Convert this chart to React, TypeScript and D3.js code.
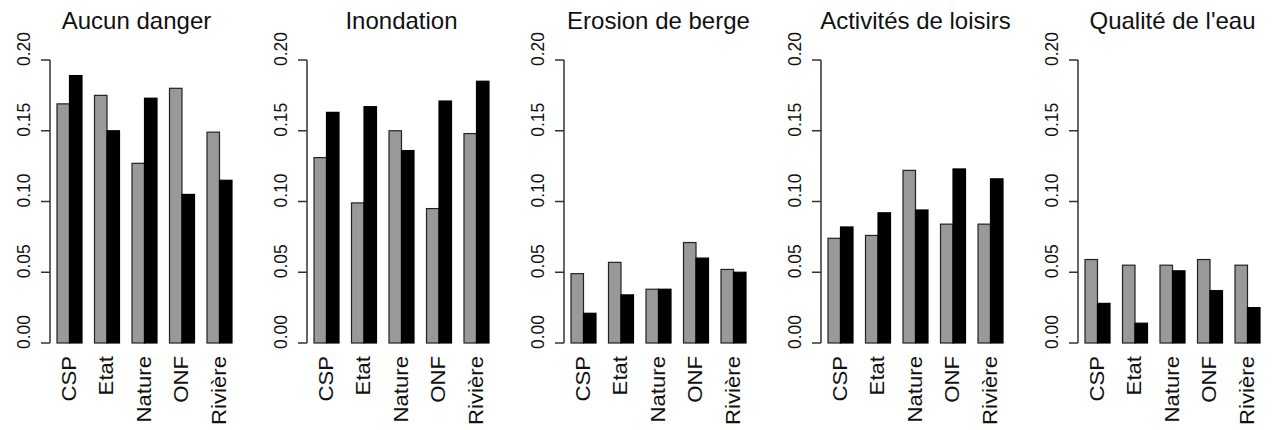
import React from 'react';
import * as d3 from 'd3';

// categories and the five panels
const categories = ['CSP', 'Etat', 'Nature', 'ONF', 'Rivière'];
const panelTitles = ['Aucun danger', 'Inondation', 'Erosion de berge', 'Activités de loisirs', "Qualité de l'eau"];
const yTicks = [0, 0.05, 0.1, 0.15, 0.2];

// grey bars (first series) and black bars (second series), one array per panel
const greyAucun = [0.169, 0.175, 0.127, 0.180, 0.149];
const blackAucun = [0.189, 0.150, 0.173, 0.105, 0.115];
const greyInondation = [0.131, 0.099, 0.150, 0.095, 0.148];
const blackInondation = [0.163, 0.167, 0.136, 0.171, 0.185];
const greyErosion = [0.049, 0.057, 0.038, 0.071, 0.052];
const blackErosion = [0.021, 0.034, 0.038, 0.060, 0.050];
const greyLoisirs = [0.074, 0.076, 0.122, 0.084, 0.084];
const blackLoisirs = [0.082, 0.092, 0.094, 0.123, 0.116];
const greyEau = [0.059, 0.055, 0.055, 0.059, 0.055];
const blackEau = [0.028, 0.014, 0.051, 0.037, 0.025];

const greySeries = [greyAucun, greyInondation, greyErosion, greyLoisirs, greyEau];
const blackSeries = [blackAucun, blackInondation, blackErosion, blackLoisirs, blackEau];

const FONT = '"Liberation Sans", Arial, Helvetica, sans-serif';
const W = 1274;
const H = 430;
const firstAxisX = 50;
const panelStep = 257;
const unit = 12.5;
// the first title sits a little left of its plot in the original
const titleShift = [-8, 0, 0, 0, 0];

const Panel = ({ index }: { index: number }) => {
  const axisX = firstAxisX + index * panelStep;
  // R barplot layout: bars of width 1, a gap of 1 before each group, 4% padding
  const x = d3.scaleLinear().domain([0.44, 15.56]).range([axisX, axisX + 15.12 * unit]);
  const y = d3.scaleLinear().domain([0, 0.2]).range([343, 60]);
  const grey = greySeries[index];
  const black = blackSeries[index];
  const left = (g: number, j: number) => 1 + 3 * g + j;

  return (
    <g>
      <text
        x={(x(1) + x(15)) / 2 + titleShift[index]}
        y={29}
        textAnchor="middle"
        fontFamily={FONT}
        fontSize={24}
        fill="#111"
      >
        {panelTitles[index]}
      </text>

      {categories.map((c, g) => (
        <g key={c}>
          <rect
            x={x(left(g, 0))}
            y={y(grey[g])}
            width={x(left(g, 1)) - x(left(g, 0))}
            height={y(0) - y(grey[g])}
            fill="#999999"
            stroke="#222"
            strokeWidth={1.2}
          />
          <rect
            x={x(left(g, 1))}
            y={y(black[g])}
            width={x(left(g, 2)) - x(left(g, 1))}
            height={y(0) - y(black[g])}
            fill="#000"
            stroke="#000"
            strokeWidth={1.2}
          />
          <text
            transform={`translate(${x(left(g, 1)) + 6},356) rotate(-90) scale(1.08,1)`}
            textAnchor="end"
            fontFamily={FONT}
            fontSize={20.5}
            fill="#111"
          >
            {c}
          </text>
        </g>
      ))}

      <line x1={axisX} x2={axisX} y1={y(0)} y2={y(0.2)} stroke="#333" strokeWidth={1.5} />
      {yTicks.map(t => (
        <g key={t}>
          <line x1={axisX - 9} x2={axisX} y1={y(t)} y2={y(t)} stroke="#333" strokeWidth={1.5} />
          <text
            transform={`translate(${axisX - 20},${y(t) - 11}) rotate(-90)`}
            textAnchor="middle"
            fontFamily={FONT}
            fontSize={17.5}
            fill="#111"
          >
            {d3.format('.2f')(t)}
          </text>
        </g>
      ))}
    </g>
  );
};

export default function App() {
  return (
    <svg
      width={W}
      height={H}
      style={{ position: 'absolute', left: 0, top: 0, background: '#fff' }}
    >
      <rect width={W} height={H} fill="#fff" />
      {panelTitles.map((t, i) => (
        <Panel key={t} index={i} />
      ))}
    </svg>
  );
}
